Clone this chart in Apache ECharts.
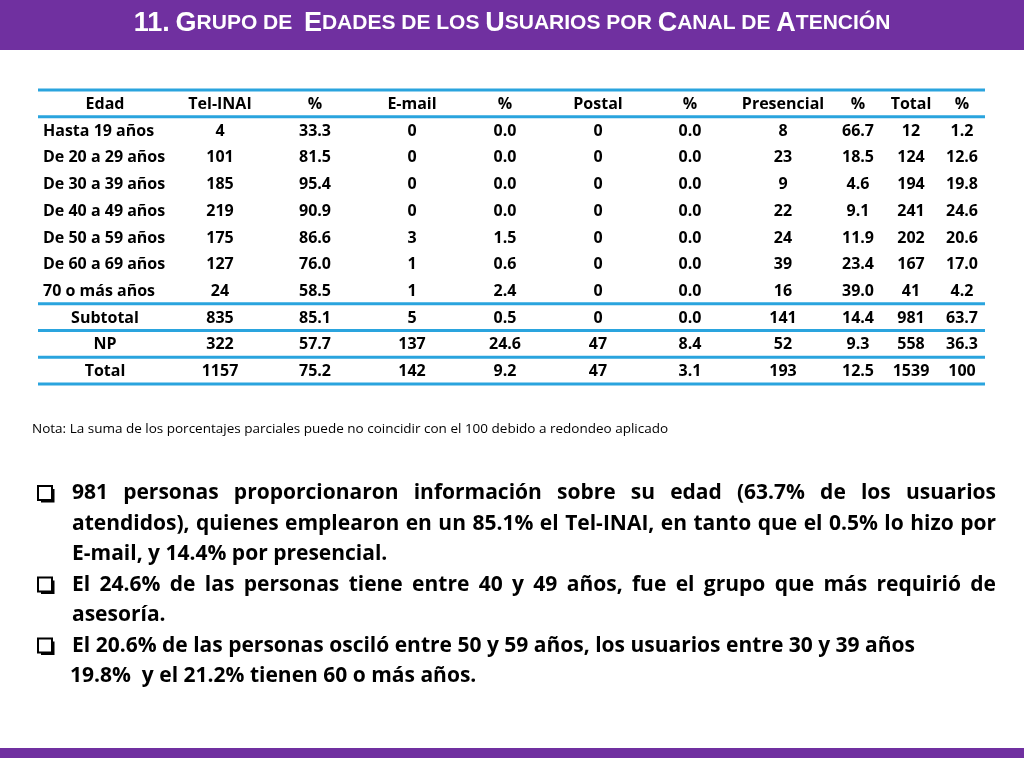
<!DOCTYPE html>
<html><head><meta charset="utf-8">
<script src="https://cdn.jsdelivr.net/npm/echarts@6/dist/echarts.min.js"></script>
<style>html,body{margin:0;padding:0;background:#fff}#c{width:1024px;height:768px}</style>
</head><body><div id="c"></div>
<script>
var headers = ['Edad','Tel-INAI','%','E-mail','%','Postal','%','Presencial','%','Total','%'];
var rowLabels = ['Hasta 19 años','De 20 a 29 años','De 30 a 39 años','De 40 a 49 años','De 50 a 59 años','De 60 a 69 años','70 o más años','Subtotal','NP','Total'];
var telInai = ['4','101','185','219','175','127','24','835','322','1157'];
var telPct = ['33.3','81.5','95.4','90.9','86.6','76.0','58.5','85.1','57.7','75.2'];
var email = ['0','0','0','0','3','1','1','5','137','142'];
var emailPct = ['0.0','0.0','0.0','0.0','1.5','0.6','2.4','0.5','24.6','9.2'];
var postal = ['0','0','0','0','0','0','0','0','47','47'];
var postalPct = ['0.0','0.0','0.0','0.0','0.0','0.0','0.0','0.0','8.4','3.1'];
var presencial = ['8','23','9','22','24','39','16','141','52','193'];
var presPct = ['66.7','18.5','4.6','9.1','11.9','23.4','39.0','14.4','9.3','12.5'];
var total = ['12','124','194','241','202','167','41','981','558','1539'];
var totalPct = ['1.2','12.6','19.8','24.6','20.6','17.0','4.2','63.7','36.3','100'];

var cols = [rowLabels, telInai, telPct, email, emailPct, postal, postalPct, presencial, presPct, total, totalPct];
var colCenters = [105,220,315,412,505,598,690,783,858,911,962];
var rows = ['h'].concat(rowLabels.map(function(_,i){return 'r'+i;}));
var data = [];
headers.forEach(function(h,c){ data.push([c,0,h]); });
cols.forEach(function(arr,c){ arr.forEach(function(v,r){ data.push([c,r+1,v]); }); });
var lineAfter = {0:1,7:1,8:1,9:1,10:1};
var font = 'bold 16px "Open Sans", "Noto Sans", sans-serif';

// body paragraphs: [text, justify]
var bodyLines = [
 ['981 personas proporcionaron información sobre su edad (63.7% de los usuarios', true, 72],
 ['atendidos), quienes emplearon en un 85.1% el Tel-INAI, en tanto que el 0.5% lo hizo por', true, 72],
 ['E-mail, y 14.4% por presencial.', false, 72],
 ['El 24.6% de las personas tiene entre 40 y 49 años, fue el grupo que más requirió de', true, 72],
 ['asesoría.', false, 72],
 ['El 20.6% de las personas osciló entre 50 y 59 años, los usuarios entre 30 y 39 años', false, 72],
 ['19.8%  y el 21.2% tienen 60 o más años.', false, 70]
];
var bodyFont = 'bold 21px "Open Sans", sans-serif';
var ctx = document.createElement('canvas').getContext('2d');
ctx.font = bodyFont;
var graphics = [
  {type:'rect',shape:{x:0,y:0,width:1024,height:50},style:{fill:'#7030A0'}},
  {type:'rect',shape:{x:0,y:748,width:1024,height:10},style:{fill:'#7030A0'}},
  {type:'text',left:32,top:422,style:{text:'Nota: La suma de los porcentajes parciales puede no coincidir con el 100 debido a redondeo aplicado',font:'13.5px "Open Sans", sans-serif',fill:'#000'}}
];
// small caps title
var titleWords = ['11.','Grupo','de','','Edades','de','los','Usuarios','por','Canal','de','Atención'];
var rich = {b:{font:'bold 27px "Liberation Sans", Arial, sans-serif',fill:'#fff'},s:{font:'bold 21px "Liberation Sans", Arial, sans-serif',fill:'#fff'}};
var tstr = titleWords.map(function(w){
  if(!w) return '';
  if(w==='11.') return '{b|11.}';
  var f=w.charAt(0), rest=w.slice(1).toUpperCase();
  if(f===f.toUpperCase()) return '{b|'+f+'}'+(rest?'{s|'+rest+'}':'');
  return '{s|'+w.toUpperCase()+'}';
}).join('{s| }');
graphics.push({type:'text',left:'center',top:10,style:{text:tstr,rich:rich}});
// bullets
[0,3,5].forEach(function(i){
  graphics.push({type:'rect',shape:{x:38,y:486+i*30.5,width:14,height:14},style:{fill:'none',stroke:'#000',lineWidth:2}});
  graphics.push({type:'polyline',shape:{points:[[53,489+i*30.5],[53,501+i*30.5],[41,501+i*30.5]]},style:{fill:'none',stroke:'#000',lineWidth:3}});
});
var rightEdge = 996;
bodyLines.forEach(function(L,i){
  var y = 483 + i*30.5;
  if(!L[1]){
    graphics.push({type:'text',left:L[2],top:y,style:{text:L[0],font:bodyFont,fill:'#000'}});
    return;
  }
  var words=L[0].split(' ');
  var wsum=0, ws=words.map(function(w){var m=ctx.measureText(w).width;wsum+=m;return m;});
  var gap=(rightEdge-L[2]-wsum)/(words.length-1);
  var x=L[2];
  words.forEach(function(w,k){
    graphics.push({type:'text',x:x,y:y,style:{text:w,font:bodyFont,fill:'#000',textAlign:'left',textVerticalAlign:'top'}});
    x+=ws[k]+gap;
  });
});

var chart = echarts.init(document.getElementById('c'));
chart.setOption({
  animation:false,
  grid:{left:38,right:39,top:90,height:294},
  xAxis:{type:'value',min:0,max:10,show:false},
  yAxis:{type:'category',data:rows,inverse:true,show:false},
  series:[{
    type:'custom',
    data:data,
    renderItem:function(params,api){
      var c=api.value(0), r=api.value(1), txt=data[params.dataIndex][2];
      var p=api.coord([0,r]);
      var bw=api.size([0,1])[1];
      var cs=params.coordSys;
      var leftAlign=(c===0 && r>=1 && r<=7);
      var children=[{type:'text',style:{text:txt,x:leftAlign?43:colCenters[c],y:p[1]+1,
        textAlign:leftAlign?'left':'center',textVerticalAlign:'middle',font:font,fill:'#000'}}];
      if(c===0){
        if(r===0) children.push({type:'line',shape:{x1:cs.x,y1:p[1]-bw/2,x2:cs.x+cs.width,y2:p[1]-bw/2},style:{stroke:'#2AA4DE',lineWidth:3}});
        if(lineAfter[r]) children.push({type:'line',shape:{x1:cs.x,y1:p[1]+bw/2,x2:cs.x+cs.width,y2:p[1]+bw/2},style:{stroke:'#2AA4DE',lineWidth:3}});
      }
      return {type:'group',children:children};
    }
  }],
  graphic:graphics
});
</script></body></html>
